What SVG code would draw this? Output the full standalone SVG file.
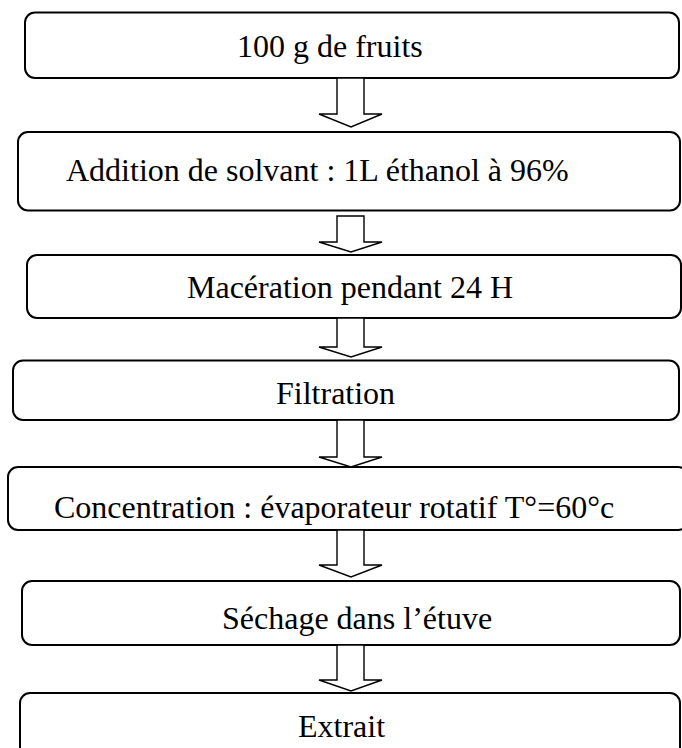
<svg xmlns="http://www.w3.org/2000/svg" width="682" height="748" viewBox="0 0 682 748">
  <defs>
    <style>
      .box { fill: #ffffff; stroke: #000000; stroke-width: 2; }
      .lbl { font-family: "Liberation Serif", "Times New Roman", serif; font-size: 32px; fill: #000000; }
      .arrow { fill: #ffffff; stroke: #000000; stroke-width: 1.4; stroke-linejoin: miter; }
    </style>
  </defs>
  <rect x="0" y="0" width="682" height="748" fill="#ffffff"/>

  <!-- steps of the extraction protocol -->
  <g id="step-fruits">
    <rect class="box" x="25" y="12.5" width="654" height="65.5" rx="10"/>
    <text class="lbl" x="237" y="57">100 g de fruits</text>
  </g>
  <g id="step-solvant">
    <rect class="box" x="18" y="132" width="662" height="78.5" rx="10"/>
    <text class="lbl" x="66" y="181">Addition de solvant : 1L éthanol à 96%</text>
  </g>
  <g id="step-maceration">
    <rect class="box" x="27" y="255" width="654" height="63" rx="10"/>
    <text class="lbl" x="187" y="298">Macération pendant 24 H</text>
  </g>
  <g id="step-filtration">
    <rect class="box" x="13" y="360.5" width="666" height="59.5" rx="10"/>
    <text class="lbl" x="276" y="404">Filtration</text>
  </g>
  <g id="step-concentration">
    <rect class="box" x="8" y="467" width="680" height="63" rx="10"/>
    <text class="lbl" x="54" y="518">Concentration : évaporateur rotatif T°=60°c</text>
  </g>
  <g id="step-sechage">
    <rect class="box" x="22" y="581" width="658" height="64" rx="10"/>
    <text class="lbl" x="222" y="629">Séchage dans l’étuve</text>
  </g>
  <g id="step-extrait">
    <rect class="box" x="20" y="693" width="660" height="70" rx="10"/>
    <text class="lbl" x="298" y="737">Extrait</text>
  </g>

  <!-- block arrows between steps -->
  <g id="connectors">
    <polygon class="arrow" points="337,78 364,78 364,114 382,114 351,127 319,114 337,114"/>
    <polygon class="arrow" points="337,216 364,216 364,242 382,242 351,252 319,242 337,242"/>
    <polygon class="arrow" points="337,318 364,318 364,347 382,347 351,357 319,347 337,347"/>
    <polygon class="arrow" points="337,420 364,420 364,457 382,457 351,467 319,457 337,457"/>
    <polygon class="arrow" points="337,530 364,530 364,565 382,565 351,577 319,565 337,565"/>
    <polygon class="arrow" points="337,645 364,645 364,680 382,680 351,691 319,680 337,680"/>
  </g>
</svg>
